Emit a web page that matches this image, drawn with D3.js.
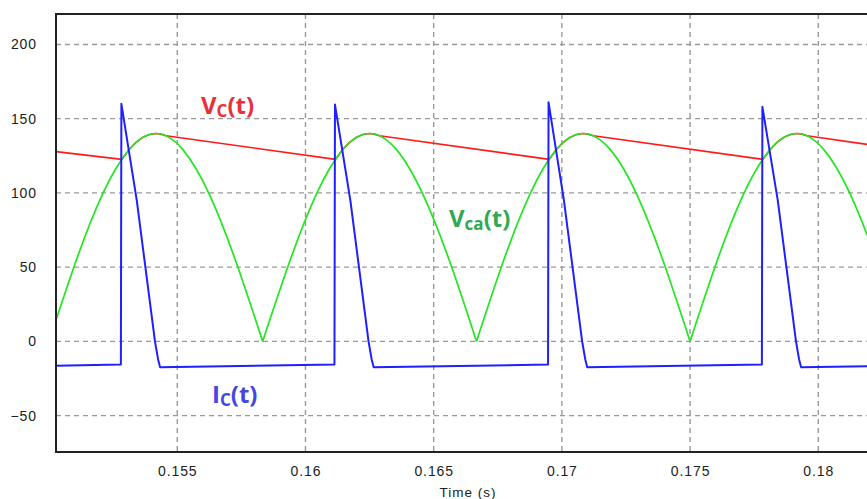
<!DOCTYPE html>
<html>
<head>
<meta charset="utf-8">
<script src="https://cdn.jsdelivr.net/npm/d3@7"></script>
<style>
  body { margin: 0; background: #fff; }
  svg { display: block; }
  .tick text { font-family: "Liberation Sans", Arial, sans-serif; font-size: 14px; fill: #222; letter-spacing: 0.9px; }
  .grid line { stroke: #999; stroke-width: 1.4; stroke-dasharray: 5,4; }
  .frame { stroke: #222; stroke-width: 2; }
  .sig { fill: none; stroke-linejoin: round; }
  .lbl { font-family: "Open Sans", "Liberation Sans", sans-serif; font-weight: 700; font-size: 24px; }
</style>
</head>
<body>
<div id="app"></div>
<script>
const W = 867, H = 499;
const margin = { top: 14, right: 0, bottom: 47, left: 56 };

/* tick labels */
const xTicks = [0.155, 0.16, 0.165, 0.17, 0.175, 0.18];
const yTicks = [-50, 0, 50, 100, 150, 200];

/* Vca(t): rectified source voltage, sampled per 1/8 half cycle */
const vcaTime = [0.15000, 0.15104, 0.15208, 0.15313, 0.15417, 0.15521, 0.15625, 0.15729, 0.15833,
                 0.15938, 0.16042, 0.16146, 0.16250, 0.16354, 0.16458, 0.16563, 0.16667,
                 0.16771, 0.16875, 0.16979, 0.17083, 0.17188, 0.17292, 0.17396, 0.17500,
                 0.17604, 0.17708, 0.17813, 0.17917, 0.18021, 0.18125, 0.18229, 0.18333];
const vcaValue = [0, 53.6, 99, 129.3, 140, 129.3, 99, 53.6, 0,
                  53.6, 99, 129.3, 140, 129.3, 99, 53.6, 0,
                  53.6, 99, 129.3, 140, 129.3, 99, 53.6, 0,
                  53.6, 99, 129.3, 140, 129.3, 99, 53.6, 0];

/* Vc(t): capacitor voltage (rides on Vca while charging, then sags) */
const vcTime = [0.15027, 0.15284, 0.15313, 0.15339, 0.15365, 0.15391, 0.15417, 0.15436, 0.15456,
                0.16117, 0.16146, 0.16172, 0.16198, 0.16224, 0.16250, 0.16269, 0.16289,
                0.16951, 0.16979, 0.17005, 0.17031, 0.17057, 0.17083, 0.17102, 0.17123,
                0.17784, 0.17813, 0.17839, 0.17865, 0.17891, 0.17917, 0.17936, 0.17956, 0.18190];
const vcValue = [127.8, 122.6, 129.4, 134.0, 137.4, 139.3, 140, 139.6, 138.5,
                 122.6, 129.4, 134.0, 137.4, 139.3, 140, 139.6, 138.5,
                 122.6, 129.4, 134.0, 137.4, 139.3, 140, 139.6, 138.5,
                 122.6, 129.4, 134.0, 137.4, 139.3, 140, 139.6, 138.5, 132.7];

/* Ic(t): capacitor current */
const icTime = [0.15027, 0.15280, 0.15282, 0.15342, 0.15413, 0.15425, 0.15433,
                0.16113, 0.16115, 0.16175, 0.16246, 0.16258, 0.16266,
                0.16946, 0.16948, 0.17008, 0.17079, 0.17091, 0.17099,
                0.17780, 0.17782, 0.17842, 0.17913, 0.17925, 0.17933, 0.18190];
const icValue = [-16.4, -15.6, 160, 95, 0, -12, -17.5,
                 -15.6, 159.5, 95, 0, -12, -17.5,
                 -15.6, 161, 95, 0, -12, -17.5,
                 -15.6, 158, 95, 0, -12, -17.5, -16.8];

const xScale = d3.scaleLinear()
  .domain([0.15027, 0.1819])
  .range([margin.left, W]);
const yScale = d3.scaleLinear()
  .domain([-74.5, 220.5])
  .range([H - margin.bottom, margin.top]);

const svg = d3.select("#app")
.append("svg")
  .attr("width", W)
  .attr("height", H);

svg.append("defs").append("clipPath")
  .attr("id", "plot")
.append("rect")
  .attr("x", margin.left)
  .attr("y", margin.top)
  .attr("width", W - margin.left)
  .attr("height", H - margin.bottom - margin.top);

/* grid */
const grid = svg.append("g").attr("class", "grid");
grid.selectAll(".gx")
  .data(xTicks)
.enter().append("line")
  .attr("x1", d => xScale(d)).attr("x2", d => xScale(d))
  .attr("y1", margin.top).attr("y2", H - margin.bottom);
grid.selectAll(".gy")
  .data(yTicks)
.enter().append("line")
  .attr("x1", margin.left).attr("x2", W)
  .attr("y1", d => yScale(d)).attr("y2", d => yScale(d));

/* axes */
svg.append("g")
  .attr("transform", `translate(0, ${H - margin.bottom})`)
  .call(d3.axisBottom(xScale).tickValues(xTicks).tickFormat(d => String(d)).tickSize(0).tickPadding(14))
  .call(g => g.select(".domain").remove());

svg.append("g")
  .attr("transform", `translate(${margin.left}, 0)`)
  .call(d3.axisLeft(yScale).tickValues(yTicks).tickSize(0).tickPadding(19))
  .call(g => g.select(".domain").remove());

svg.append("text")
  .attr("x", 468)
  .attr("y", 497)
  .attr("text-anchor", "middle")
  .style("font-family", "Liberation Sans, Arial, sans-serif")
  .style("font-size", "13.5px")
  .style("letter-spacing", "1px")
  .style("fill", "#222")
  .text("Time (s)");

/* signals */
const line = d3.line()
  .x(d => xScale(d[0]))
  .y(d => yScale(d[1]));

const plot = svg.append("g").attr("clip-path", "url(#plot)");

plot.append("path")
  .datum(vcTime.map((t, i) => [t, vcValue[i]]))
  .attr("class", "sig")
  .attr("stroke", "#ff1a1a")
  .attr("stroke-width", 1.6)
  .attr("d", line);

// split Vca at its zeros so every half wave is its own smooth arch
const arches = [];
let cur = [];
vcaTime.forEach((t, i) => {
  cur.push([t, vcaValue[i]]);
  if (vcaValue[i] === 0 && cur.length > 1) { arches.push(cur); cur = [[t, 0]]; }
});
plot.selectAll(".vca")
  .data(arches)
.enter().append("path")
  .attr("class", "sig vca")
  .attr("stroke", "#22e622")
  .attr("stroke-width", 1.7)
  .attr("d", line.curve(d3.curveNatural));

line.curve(d3.curveLinear);
plot.append("path")
  .datum(icTime.map((t, i) => [t, icValue[i]]))
  .attr("class", "sig")
  .attr("stroke", "#1f1fff")
  .attr("stroke-width", 2)
  .attr("d", line);

/* frame */
svg.append("line").attr("class", "frame")
  .attr("x1", margin.left).attr("x2", W).attr("y1", margin.top).attr("y2", margin.top);
svg.append("line").attr("class", "frame")
  .attr("x1", margin.left).attr("x2", W).attr("y1", H - margin.bottom).attr("y2", H - margin.bottom);
svg.append("line").attr("class", "frame")
  .attr("x1", margin.left).attr("x2", margin.left).attr("y1", margin.top - 1).attr("y2", H - margin.bottom + 1);

/* curve labels */
function label(x, y, main, sub, color) {
  const t = svg.append("text").attr("class", "lbl").attr("x", x).attr("y", y).attr("fill", color);
  t.append("tspan").text(main);
  t.append("tspan").attr("dy", 3).style("font-size", "17px").text(sub);
  t.append("tspan").attr("dy", -3).text("(t)");
}
label(201, 114, "V", "C", "#e8303a");
label(449, 227, "V", "ca", "#33a852");
label(212, 403, "I", "C", "#4646e0");
</script>
</body>
</html>
